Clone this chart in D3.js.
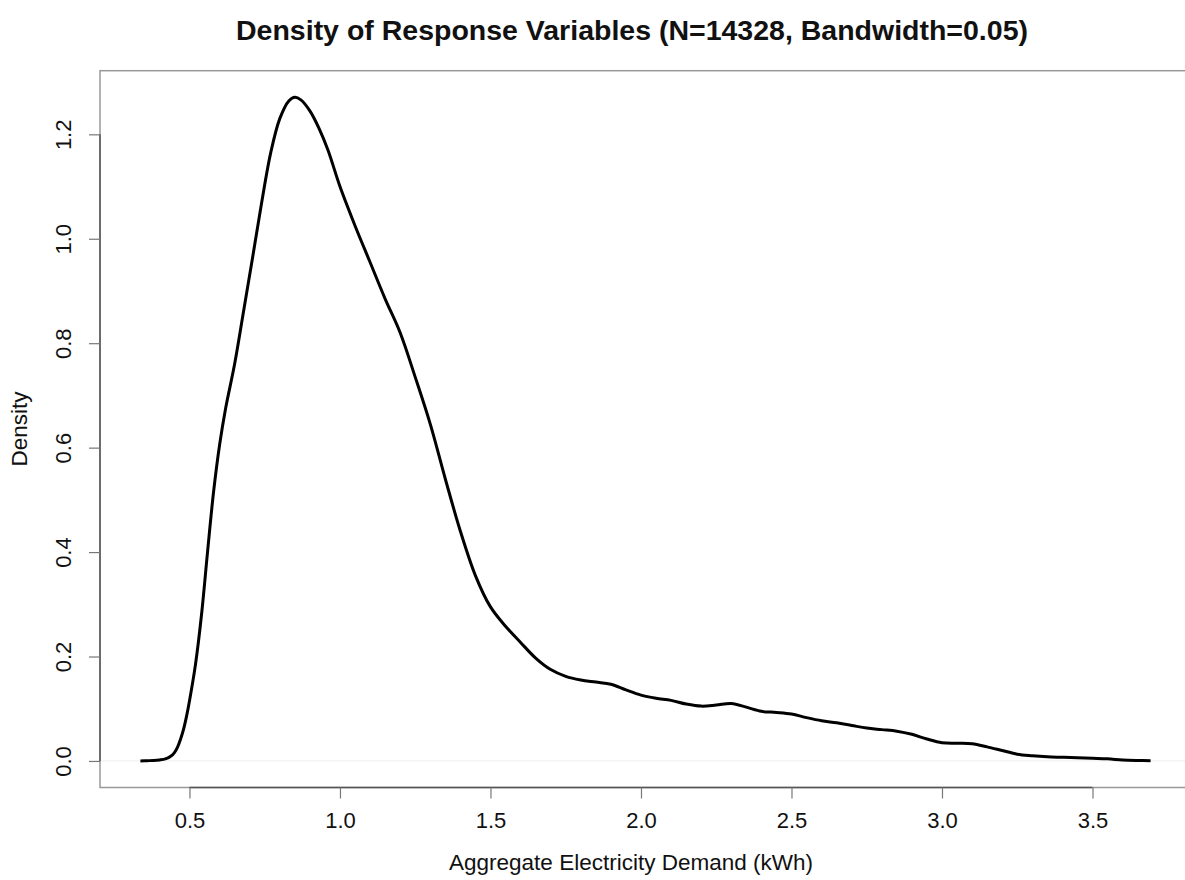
<!DOCTYPE html>
<html>
<head>
<meta charset="utf-8">
<script src="https://cdn.jsdelivr.net/npm/d3@7"></script>
<style>
  body { margin: 0; background: #fff; }
  text { font-family: "Liberation Sans", Arial, sans-serif; fill: #111; }
</style>
</head>
<body>
<svg id="chart" width="1185" height="880"></svg>
<script>
// density estimate
const demand = [0.337, 0.36, 0.38, 0.40, 0.42, 0.44, 0.45, 0.46, 0.47, 0.48, 0.49, 0.50, 0.52, 0.54, 0.56, 0.58, 0.60, 0.62,
  0.65, 0.68, 0.71, 0.74, 0.77, 0.80, 0.83, 0.85, 0.87, 0.90, 0.93, 0.96, 1.00, 1.05, 1.10, 1.15, 1.20,
  1.25, 1.30, 1.35, 1.40, 1.45, 1.50, 1.55, 1.60, 1.65, 1.70, 1.75, 1.80, 1.85, 1.90, 1.95, 2.00, 2.05,
  2.10, 2.15, 2.20, 2.25, 2.30, 2.35, 2.40, 2.45, 2.50, 2.55, 2.60, 2.65, 2.70, 2.75, 2.80, 2.85, 2.90,
  2.95, 3.00, 3.05, 3.10, 3.15, 3.20, 3.25, 3.30, 3.35, 3.40, 3.45, 3.50, 3.55, 3.60, 3.65, 3.693];
const density = [0.000, 0.0005, 0.001, 0.002, 0.004, 0.010, 0.016, 0.026, 0.041, 0.060, 0.085, 0.115, 0.185, 0.28, 0.40, 0.515, 0.605, 0.675,
  0.76, 0.862, 0.965, 1.07, 1.165, 1.23, 1.264, 1.271, 1.266, 1.245, 1.212, 1.17, 1.10, 1.025, 0.955, 0.885, 0.82,
  0.735, 0.645, 0.54, 0.44, 0.355, 0.295, 0.258, 0.227, 0.197, 0.175, 0.162, 0.155, 0.151, 0.147, 0.136, 0.126, 0.120,
  0.116, 0.109, 0.105, 0.107, 0.110, 0.103, 0.095, 0.093, 0.090, 0.083, 0.077, 0.073, 0.068, 0.063, 0.060, 0.057, 0.051,
  0.042, 0.035, 0.034, 0.033, 0.027, 0.020, 0.013, 0.010, 0.008, 0.007, 0.006, 0.005, 0.004, 0.002, 0.001, 0.0005];
const xTicks = [0.5, 1.0, 1.5, 2.0, 2.5, 3.0, 3.5];
const yTicks = [0.0, 0.2, 0.4, 0.6, 0.8, 1.0, 1.2];

const titleText = 'Density of Response Variables (N=14328, Bandwidth=0.05)';
const xLabel = 'Aggregate Electricity Demand (kWh)';
const yLabel = 'Density';

const plot = { left: 100, right: 1191, top: 70.7, bottom: 787.5 };

// R style 4% padding on both axes
const xExt = d3.extent(demand);
const xPad = (xExt[1] - xExt[0]) * 0.04;
const yMax = d3.max(density);
const yPad = yMax * 0.04;

const x = d3.scaleLinear().domain([xExt[0] - xPad, xExt[1] + xPad]).range([plot.left, plot.right]);
const y = d3.scaleLinear().domain([-yPad, yMax + yPad]).range([plot.bottom, plot.top]);

const svg = d3.select('#chart');

// faint zero line
svg.append('line')
  .attr('x1', plot.left).attr('x2', plot.right)
  .attr('y1', y(0)).attr('y2', y(0))
  .attr('stroke', '#eeeeee').attr('stroke-width', 1);

// box
svg.append('rect')
  .attr('x', plot.left).attr('y', plot.top)
  .attr('width', plot.right - plot.left).attr('height', plot.bottom - plot.top)
  .attr('fill', 'none').attr('stroke', '#999').attr('stroke-width', 1.5);

// axes
const xAxis = svg.append('g')
  .attr('transform', `translate(0,${plot.bottom})`)
  .call(d3.axisBottom(x).tickValues(xTicks).tickFormat(d3.format('.1f')).tickSize(11).tickPadding(14));
xAxis.select('.domain').attr('d', `M${x(xTicks[0])},0H${x(xTicks[xTicks.length - 1])}`);

const yAxis = svg.append('g')
  .attr('transform', `translate(${plot.left},0)`)
  .call(d3.axisLeft(y).tickValues(yTicks).tickFormat(d3.format('.1f')).tickSize(11).tickPadding(0));
yAxis.select('.domain').attr('d', `M0,${y(yTicks[0])}V${y(yTicks[yTicks.length - 1])}`);

svg.selectAll('.domain').attr('stroke', '#555').attr('stroke-width', 1.5);
svg.selectAll('.tick line').attr('stroke', '#777').attr('stroke-width', 1.2);
svg.selectAll('.tick text').style('font-family', '"Liberation Sans", Arial, sans-serif')
  .style('font-size', '22px').attr('fill', '#111');

yAxis.selectAll('.tick text')
  .attr('x', null).attr('dy', null)
  .attr('text-anchor', 'middle')
  .attr('transform', 'translate(-37,0) rotate(-90)')
  .attr('dy', '0.35em');

// density curve
const line = d3.line()
  .x((d, i) => x(demand[i]))
  .y(d => y(d))
  .curve(d3.curveCatmullRom.alpha(0.5));

svg.append('path')
  .datum(density)
  .attr('d', line)
  .attr('fill', 'none')
  .attr('stroke', '#000')
  .attr('stroke-width', 3)
  .attr('stroke-linejoin', 'round');

// labels
svg.append('text')
  .attr('x', 632).attr('y', 40)
  .attr('text-anchor', 'middle')
  .style('font-size', '28.5px').style('font-weight', 'bold')
  .text(titleText);

svg.append('text')
  .attr('x', 631).attr('y', 870)
  .attr('text-anchor', 'middle')
  .style('font-size', '22.5px')
  .text(xLabel);

svg.append('text')
  .attr('transform', `translate(27,${(plot.top + plot.bottom) / 2}) rotate(-90)`)
  .attr('text-anchor', 'middle')
  .style('font-size', '22.5px')
  .text(yLabel);
</script>
</body>
</html>
